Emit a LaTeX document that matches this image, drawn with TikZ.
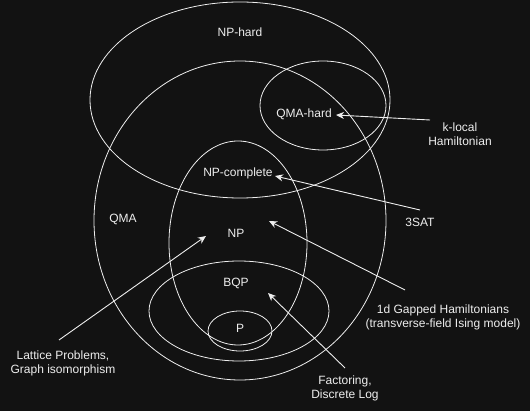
\documentclass[tikz,border=0pt]{standalone}
\usepackage{fontspec}
\setmainfont{Liberation Sans}
\usetikzlibrary{arrows.meta}
\definecolor{bgdark}{RGB}{18,18,18}
\definecolor{chalk}{RGB}{238,238,238}

\begin{document}
\begin{tikzpicture}[x=1pt, y=-1pt,
    every node/.style={text=chalk, font=\fontsize{12}{14}\selectfont, align=center, inner sep=1pt},
    class/.style={draw=chalk, line width=0.8pt},
    pointer/.style={draw=chalk, line width=0.9pt, -{Stealth[length=8pt, width=7pt, inset=2.5pt]}}]
    % Background
    \fill[bgdark] (0,0) rectangle (530,411);
    \useasboundingbox (0,0) rectangle (530,411);

    % Draw complexity classes
    \draw[class] (240,100) ellipse [x radius=150pt, y radius=98pt];
    \draw[class] (240,220.5) ellipse [x radius=146pt, y radius=159.5pt];
    \draw[class] (323,105.5) ellipse [x radius=63pt, y radius=44.5pt];
    \draw[class] (238,243) ellipse [x radius=69pt, y radius=102pt];
    \draw[class] (239,311) ellipse [x radius=90pt, y radius=50pt];
    \draw[class] (240,331) ellipse [x radius=32pt, y radius=20pt];

    \node (nphard) at (240,32) {NP-hard};
    \node (qmahard) at (304,114) {QMA-hard};
    \node (npcomplete) at (238,173) {NP-complete};
    \node (qma) at (123,219) {QMA};
    \node (np) at (236,233) {NP};
    \node (bqp) at (236,283) {BQP};
    \node (p) at (240,328) {P};

    % Problems
    \node (klocal) at (460,134) {k-local\\Hamiltonian};
    \node (threesat) at (420,222) {3SAT};
    \node (ising) at (443,317) {1d Gapped Hamiltonians\\(transverse-field Ising model)};
    \node (lattice) at (63,363) {Lattice Problems,\\Graph isomorphism};
    \node (factoring) at (345,388) {Factoring,\\Discrete Log};

    \coordinate (klocal-tail) at (430,120);
    \coordinate (qmahard-tip) at (336,115);
    \coordinate (threesat-tail) at (420,210);
    \coordinate (npcomplete-tip) at (275,176);
    \coordinate (ising-tail) at (405,290);
    \coordinate (np-tip-right) at (269,221);
    \coordinate (lattice-tail) at (59,340);
    \coordinate (np-tip-left) at (206,236);
    \coordinate (factoring-tail) at (345,368);
    \coordinate (bqp-tip) at (268,293);

    \draw[pointer] (klocal-tail) -- (qmahard-tip);
    \draw[pointer] (threesat-tail) -- (npcomplete-tip);
    \draw[pointer] (ising-tail) -- (np-tip-right);
    \draw[pointer] (lattice-tail) -- (np-tip-left);
    \draw[pointer] (factoring-tail) -- (bqp-tip);

\end{tikzpicture}
\end{document}
